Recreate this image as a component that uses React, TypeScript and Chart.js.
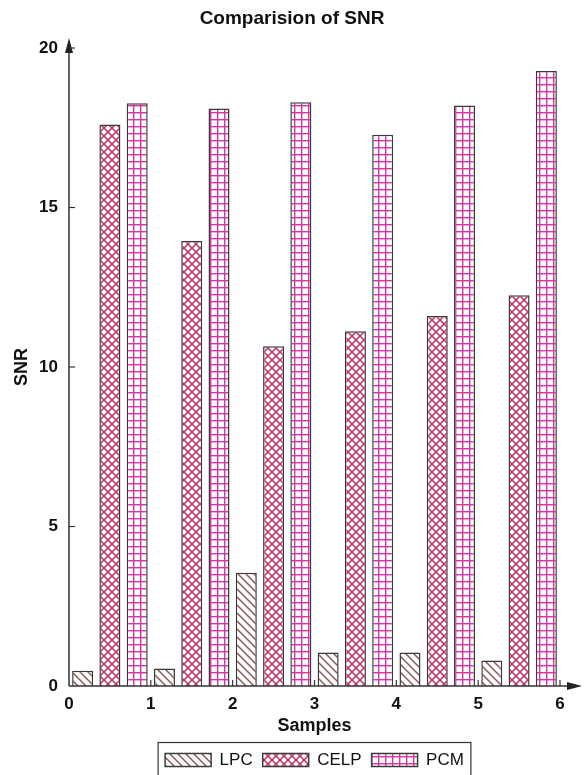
import React, { useEffect, useRef } from 'react';
import { Chart, registerables } from 'chart.js';
Chart.register(...registerables);

const samples = ['1', '2', '3', '4', '5', '6'];
const seriesNames = ['LPC', 'CELP', 'PCM'];
const lpcValues = [0.48, 0.55, 3.55, 1.05, 1.05, 0.8];
const celpValues = [17.6, 13.95, 10.65, 11.12, 11.6, 12.25];
const pcmValues = [18.27, 18.1, 18.3, 17.28, 18.2, 19.28];
const xTicks = [1, 2, 3, 4, 5, 6];
const yTicks = [5, 10, 15, 20];

const FONT = "'Liberation Sans', Arial, sans-serif";

function makePattern(kind: string, color: string): CanvasPattern | string {
  const size = kind === 'grid' ? 7 : 8;
  const c = document.createElement('canvas');
  c.width = size;
  c.height = size;
  const g = c.getContext('2d');
  if (!g) return color;
  g.fillStyle = '#ffffff';
  g.fillRect(0, 0, size, size);
  g.strokeStyle = color;
  g.fillStyle = color;
  g.lineWidth = 1.5;
  const line = (x0: number, y0: number, x1: number, y1: number) => {
    g.beginPath();
    g.moveTo(x0, y0);
    g.lineTo(x1, y1);
    g.stroke();
  };
  const z = size;
  if (kind === 'back' || kind === 'cross') {
    line(-1, -1, z + 1, z + 1);
    line(-1, z - 1, 1, z + 1);
    line(z - 1, -1, z + 1, 1);
  }
  if (kind === 'cross') {
    line(-1, z + 1, z + 1, -1);
    line(-1, 1, 1, -1);
    line(z - 1, z + 1, z + 1, z - 1);
  }
  if (kind === 'grid') {
    g.fillRect(0, 0, z, 1.4);
    g.fillRect(0, 0, 1.4, z);
  }
  const p = g.createPattern(c, 'repeat');
  return p || color;
}

const axesPlugin = {
  id: 'axesDecor',
  afterDraw(chart: any) {
    const { ctx, chartArea, scales } = chart;
    const left = chartArea.left;
    const bottom = chartArea.bottom;
    ctx.save();
    ctx.strokeStyle = '#333333';
    ctx.fillStyle = '#222222';
    ctx.lineWidth = 1.5;
    ctx.beginPath();
    ctx.moveTo(left, bottom);
    ctx.lineTo(left, chartArea.top - 6);
    ctx.stroke();
    ctx.beginPath();
    ctx.moveTo(left, chartArea.top - 10);
    ctx.lineTo(left - 4, chartArea.top + 5);
    ctx.lineTo(left + 4, chartArea.top + 5);
    ctx.closePath();
    ctx.fill();
    const xEnd = chart.width - 2;
    ctx.beginPath();
    ctx.moveTo(left, bottom);
    ctx.lineTo(xEnd - 6, bottom);
    ctx.stroke();
    ctx.beginPath();
    ctx.moveTo(xEnd, bottom);
    ctx.lineTo(xEnd - 15, bottom - 4);
    ctx.lineTo(xEnd - 15, bottom + 4);
    ctx.closePath();
    ctx.fill();
    ctx.lineWidth = 1.2;
    yTicks.forEach((v) => {
      const py = scales.y.getPixelForValue(v);
      ctx.beginPath();
      ctx.moveTo(left, py);
      ctx.lineTo(left + 6, py);
      ctx.stroke();
    });
    xTicks.forEach((v) => {
      const px = scales.xt.getPixelForValue(v);
      ctx.beginPath();
      ctx.moveTo(px, bottom);
      ctx.lineTo(px, bottom - 6);
      ctx.stroke();
    });
    const lg = chart.legend;
    if (lg && lg.legendHitBoxes && lg.legendHitBoxes.length) {
      const hb = lg.legendHitBoxes;
      let l = Infinity, r = -Infinity, t = Infinity, b = -Infinity;
      hb.forEach((h: any) => {
        l = Math.min(l, h.left);
        r = Math.max(r, h.left + h.width);
        t = Math.min(t, h.top);
        b = Math.max(b, h.top + h.height);
      });
      ctx.strokeStyle = '#333333';
      ctx.lineWidth = 1.2;
      ctx.strokeRect(l - 7, t - 9, r - l + 14, b - t + 18);
    }
    ctx.restore();
  },
};

export default function App() {
  const ref = useRef<HTMLCanvasElement | null>(null);
  useEffect(() => {
    if (!ref.current) return;
    const lpcFill = makePattern('back', '#8a5850');
    const celpFill = makePattern('cross', '#c42c5c');
    const pcmFill = makePattern('grid', '#d534a6');
    const border = '#3a3a3a';
    const chart = new Chart(ref.current, {
      type: 'bar',
      data: {
        labels: samples,
        datasets: [
          { label: seriesNames[0], data: lpcValues, backgroundColor: lpcFill as any, borderColor: border, borderWidth: 1.5 },
          { label: seriesNames[1], data: celpValues, backgroundColor: celpFill as any, borderColor: border, borderWidth: 1.5 },
          { label: seriesNames[2], data: pcmValues, backgroundColor: pcmFill as any, borderColor: border, borderWidth: 1.5 },
        ],
      },
      options: {
        responsive: false,
        animation: false,
        layout: { padding: { left: 0, right: 0, top: 0, bottom: -3.5 } },
        datasets: { bar: { barPercentage: 0.77, categoryPercentage: 1.0 } },
        plugins: {
          title: {
            display: true,
            text: 'Comparision of SNR',
            color: '#111111',
            font: { family: FONT, size: 19, weight: 'bold' },
            padding: { top: 7, bottom: 18.2 },
          },
          legend: {
            position: 'bottom',
            fullSize: false,
            labels: {
              color: '#111111',
              font: { family: FONT, size: 17 },
              boxWidth: 46,
              boxHeight: 13,
              padding: 10,
            },
          },
          tooltip: { enabled: false },
        },
        scales: {
          x: {
            type: 'category',
            display: false,
            offset: true,
          },
          xt: {
            type: 'linear',
            position: 'bottom',
            min: 0,
            max: 6,
            offset: false,
            grid: { display: false, drawTicks: false },
            border: { display: false },
            ticks: {
              stepSize: 1,
              padding: 8,
              color: '#111111',
              font: { family: FONT, size: 17, weight: 'bold' },
            },
            title: {
              display: true,
              text: 'Samples',
              color: '#111111',
              font: { family: FONT, size: 18, weight: 'bold' },
              padding: { top: 0, bottom: 4.5 },
            },
            afterFit: (s: any) => { s.height = 55.5; },
          },
          y: {
            type: 'linear',
            position: 'left',
            min: 0,
            max: 20,
            grid: { display: false, drawTicks: false },
            border: { display: false },
            ticks: {
              stepSize: 5,
              padding: 11,
              color: '#111111',
              font: { family: FONT, size: 17, weight: 'bold' },
            },
            title: {
              display: true,
              text: 'SNR',
              color: '#111111',
              font: { family: FONT, size: 18, weight: 'bold' },
              padding: { top: 11, bottom: 0 },
            },
            afterFit: (s: any) => { s.width = 69; },
          },
          yr: {
            type: 'linear',
            position: 'right',
            display: true,
            grid: { display: false, drawTicks: false },
            border: { display: false },
            ticks: { display: false },
            afterFit: (s: any) => { s.width = 24; },
          },
        },
      },
      plugins: [axesPlugin],
    } as any);
    return () => chart.destroy();
  }, []);
  return (
    <div style={{ position: 'absolute', left: 0, top: 0, width: 584, height: 775, background: '#ffffff' }}>
      <canvas ref={ref} width={584} height={775} style={{ display: 'block' }} />
    </div>
  );
}
